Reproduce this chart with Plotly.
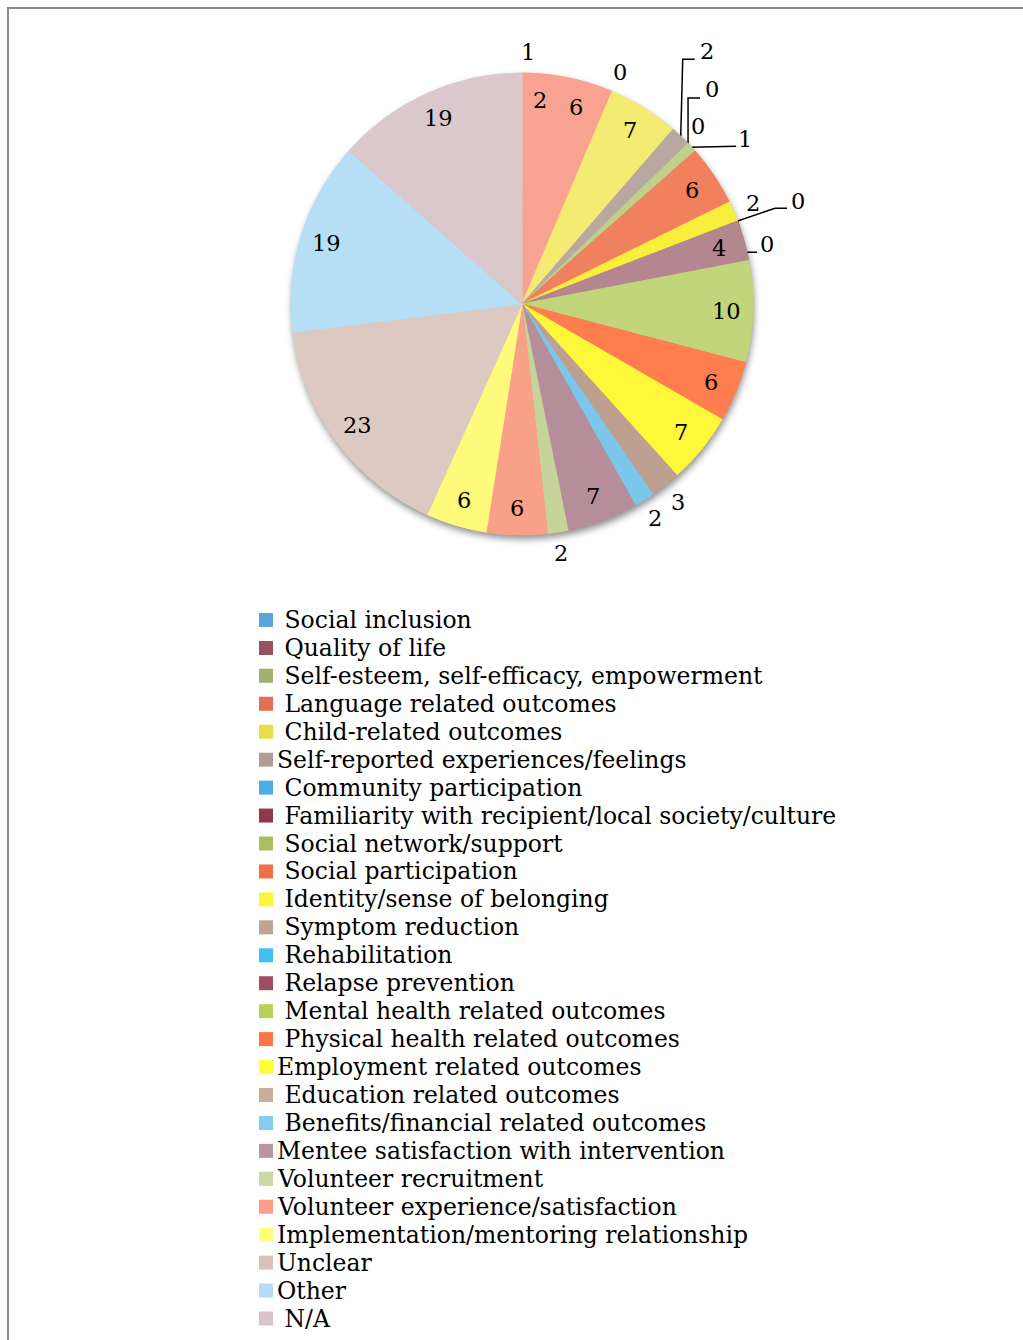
import math
import base64
import plotly.graph_objects as go

# Outcome categories (legend order = slice order, clockwise from 12 o'clock)
categories = [
    " Social inclusion",
    " Quality of life",
    " Self-esteem, self-efficacy, empowerment",
    " Language related outcomes",
    " Child-related outcomes",
    "Self-reported experiences/feelings",
    " Community participation",
    " Familiarity with recipient/local society/culture",
    " Social network/support",
    " Social participation",
    " Identity/sense of belonging",
    " Symptom reduction",
    " Rehabilitation",
    " Relapse prevention",
    " Mental health related outcomes",
    " Physical health related outcomes",
    "Employment related outcomes",
    " Education related outcomes",
    " Benefits/financial related outcomes",
    "Mentee satisfaction with intervention",
    "Volunteer recruitment",
    "Volunteer experience/satisfaction",
    "Implementation/mentoring relationship",
    "Unclear",
    "Other",
    " N/A",
]

# Number of studies reporting each outcome
studies = [1, 2, 6, 0, 7, 2, 0, 0, 1, 6, 2, 0, 0, 4, 10, 6, 7, 3, 2, 7, 2, 6, 6, 23, 19, 19]

slice_colors = [
    "#F8A391", "#F8A391", "#F8A391", "#F08866", "#F3EB72", "#B9A8A2",
    "#5BB5E5", "#8A3A4A", "#BFD08A", "#F0805E", "#F8EE3C", "#C0A090",
    "#50C0F0", "#B48690", "#C2D57A", "#FF7D4E", "#FFF73A", "#BEA090",
    "#7CC6EC", "#B68E99", "#C6D39B", "#F9A088", "#FFF97C", "#DCCAC2",
    "#B6DEF4", "#DBC8CC",
]

legend_colors = [
    "#5CA5DC", "#96525E", "#9FB070", "#E56E52", "#E8DC48", "#B09C94",
    "#4AAEE2", "#8E3A4C", "#A8BE60", "#F07048", "#FFF23A", "#C2A292",
    "#3EC0F2", "#A04C64", "#B8D058", "#FF7444", "#FFFF3A", "#C8AC9E",
    "#84CCF2", "#BC94A2", "#CCD8A2", "#FF9E88", "#FFFF78", "#D6C4BC",
    "#B4DCF6", "#D8C4CA",
]

W, H = 1023, 1340
CX, CY, R = 522.0, 304.0, 231.0          # pie centre and radius in pixels
FONT = "DejaVu Serif"
LABEL_SIZE = 22.5
LEGEND_SIZE = 23.5

# Label placement: inside labels near the rim, small slices outside
R_IN, R_OUT = 0.885, 1.09
outside = {
    " Social inclusion", " Language related outcomes", " Identity/sense of belonging",
    " Education related outcomes", " Benefits/financial related outcomes",
    "Volunteer recruitment",
}
# Crowded labels get call-out lines (pixel offsets from the slice's rim point)
callouts = {
    "Self-reported experiences/feelings": dict(label=(26, -85), path=[(2, -77), (14, -77)]),
    " Community participation": dict(label=(24, -54.5), path=[(0, -45.5), (12, -45.5)]),
    " Familiarity with recipient/local society/culture": dict(label=(10, -17.5), path=[]),
    " Social network/support": dict(label=(53.5, -8), path=[(44.5, -1)]),
    " Symptom reduction": dict(label=(60.5, -19.8), path=[(37.5, -12.8), (49.5, -12.8)]),
    " Rehabilitation": dict(label=(29.5, 23.2), path=[(8.5, 31.2), (19.5, 31.2)]),
}


def polar(angle_deg, radius):
    a = math.radians(angle_deg)
    return CX + radius * math.sin(a), CY - radius * math.cos(a)


fig = go.Figure()

fig.add_trace(go.Pie(
    labels=categories,
    values=studies,
    sort=False,
    direction="clockwise",
    rotation=0,
    textinfo="none",
    hoverinfo="label+value",
    showlegend=False,
    marker=dict(
        colors=slice_colors,
        # outline each slice in its own colour so adjacent slices join without seams
        line=dict(color=slice_colors, width=[0 if v == 0 else 1 for v in studies]),
    ),
    domain=dict(x=[(CX - R) / W, (CX + R) / W], y=[1 - (CY + R) / H, 1 - (CY - R) / H]),
))

total = sum(studies)
annotations = []
lead_x, lead_y = [], []
cum = 0
for cat, v in zip(categories, studies):
    a0 = cum / total * 360
    cum += v
    a1 = cum / total * 360
    mid = (a0 + a1) / 2
    if cat in callouts:
        ex, ey = polar(mid, R)
        spec = callouts[cat]
        if spec["path"]:
            lead_x += [ex] + [ex + dx for dx, _ in spec["path"]] + [None]
            lead_y += [ey] + [ey + dy for _, dy in spec["path"]] + [None]
        lx, ly = ex + spec["label"][0], ey + spec["label"][1]
    else:
        lx, ly = polar(mid, R * (R_OUT if cat in outside else R_IN))
    annotations.append(dict(
        x=lx, y=ly, xref="x", yref="y", text=str(v), showarrow=False,
        xanchor="center", yanchor="middle",
        font=dict(family=FONT, size=LABEL_SIZE, color="black"),
    ))

# Call-out lines
fig.add_trace(go.Scatter(
    x=lead_x, y=lead_y, mode="lines", xaxis="x", yaxis="y",
    line=dict(color="black", width=1.5), hoverinfo="skip", showlegend=False,
))

# Legend swatches
fig.add_trace(go.Scatter(
    x=[266] * len(categories), y=categories, mode="markers", xaxis="x2", yaxis="y2",
    marker=dict(symbol="square", size=14, color=legend_colors, line=dict(width=0)),
    hoverinfo="skip", showlegend=False,
))
for i, cat in enumerate(categories):
    annotations.append(dict(
        x=275, y=i, xref="x2", yref="y2", text=cat, showarrow=False,
        xanchor="left", yanchor="middle",
        font=dict(family=FONT, size=LEGEND_SIZE, color="black"),
    ))

# Soft drop shadow under the pie
S = 540
shadow_svg = (
    f'<svg xmlns="http://www.w3.org/2000/svg" width="{S}" height="{S}">'
    '<defs><filter id="b" x="-20%" y="-20%" width="140%" height="140%">'
    '<feGaussianBlur stdDeviation="3.5"/></filter></defs>'
    f'<circle cx="{S / 2 + 1}" cy="{S / 2 + 4}" r="{R}" fill="#000" fill-opacity="0.45" filter="url(#b)"/>'
    '</svg>'
)
shadow_src = "data:image/svg+xml;base64," + base64.b64encode(shadow_svg.encode()).decode()

row_top, row_bottom = 606.0, 1332.5
fig.update_layout(
    width=W, height=H,
    margin=dict(l=0, r=0, t=0, b=0),
    paper_bgcolor="white", plot_bgcolor="rgba(0,0,0,0)",
    xaxis=dict(domain=[0, 1], range=[0, W], visible=False, fixedrange=True),
    yaxis=dict(domain=[0, 1], range=[H, 0], visible=False, fixedrange=True),
    xaxis2=dict(domain=[0, 1], range=[0, W], visible=False, fixedrange=True, anchor="y2"),
    yaxis2=dict(domain=[1 - row_bottom / H, 1 - row_top / H], type="category",
                categoryorder="array", categoryarray=categories,
                range=[len(categories) - 0.5, -0.5], visible=False, fixedrange=True,
                anchor="x2"),
    annotations=annotations,
    images=[dict(source=shadow_src, xref="paper", yref="paper",
                 x=(CX - S / 2) / W, y=1 - (CY - S / 2) / H,
                 sizex=S / W, sizey=S / H, xanchor="left", yanchor="top",
                 sizing="stretch", layer="below")],
    shapes=[dict(type="rect", xref="paper", yref="paper",
                 x0=8 / W, x1=1.02, y0=-0.02, y1=1 - 8 / H,
                 line=dict(color="#8C8C8C", width=2), layer="below")],
)

fig.write_html("out.html")
